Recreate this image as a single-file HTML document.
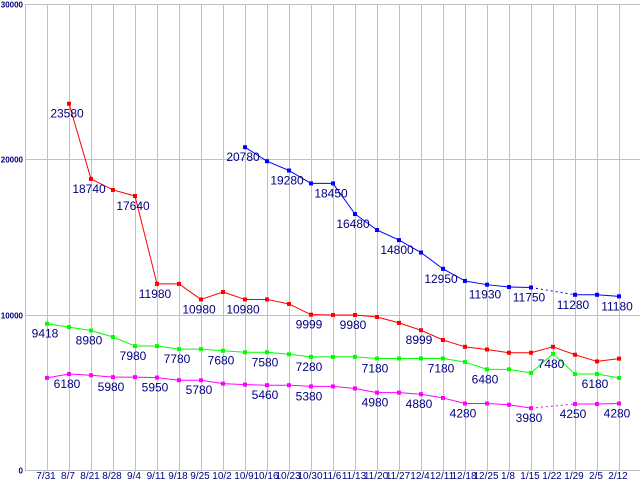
<!DOCTYPE html>
<html><head><meta charset="utf-8"><style>
html,body{margin:0;padding:0;background:#fff;width:640px;height:480px;overflow:hidden}
svg{display:block}
text{font-family:"Liberation Sans","DejaVu Sans",sans-serif}
</style></head><body>
<svg id="chart" width="640" height="480" xmlns="http://www.w3.org/2000/svg">
<g id="grid"></g>
<g id="axes"></g>
<g id="series"></g>
</svg>
<script>
const categories=["7/31","8/7","8/21","8/28","9/4","9/11","9/18","9/25","10/2","10/9","10/16","10/23","10/30","11/6","11/13","11/20","11/27","12/4","12/11","12/18","12/25","1/8","1/15","1/22","1/29","2/5","2/12"];
const yTicks=[0,10000,20000,30000];
const redValues=[null,23580,18740,18030,17640,11980,11980,10980,11460,10980,10980,10690,9999,9980,9980,9850,9470,8999,8370,7930,7760,7550,7550,7930,7420,6990,7170];
const blueValues=[null,null,null,null,null,null,null,null,null,20780,19880,19280,18450,18450,16480,15450,14800,14000,12950,12170,11930,11780,11750,null,11280,11280,11180];
const greenValues=[9418,9200,8980,8560,7980,7980,7780,7780,7680,7580,7580,7450,7280,7280,7280,7180,7180,7180,7180,6950,6480,6480,6250,7480,6180,6180,5930];
const magentaValues=[5930,6180,6100,5980,5980,5950,5780,5780,5560,5500,5460,5460,5380,5380,5250,4980,4980,4880,4640,4280,4280,4200,3980,null,4250,4250,4280];
const redLabels=[[1,"23580"],[2,"18740"],[4,"17640"],[5,"11980"],[7,"10980"],[9,"10980"],[12,"9999"],[14,"9980"],[17,"8999"]];
const blueLabels=[[9,"20780"],[11,"19280"],[13,"18450"],[14,"16480"],[16,"14800"],[18,"12950"],[20,"11930"],[22,"11750"],[24,"11280"],[26,"11180"]];
const greenLabels=[[0,"9418"],[2,"8980"],[4,"7980"],[6,"7780"],[8,"7680"],[10,"7580"],[12,"7280"],[15,"7180"],[18,"7180"],[20,"6480"],[23,"7480"],[25,"6180"]];
const magentaLabels=[[1,"6180"],[3,"5980"],[5,"5950"],[7,"5780"],[10,"5460"],[12,"5380"],[15,"4980"],[17,"4880"],[19,"4280"],[22,"3980"],[24,"4250"],[26,"4280"]];

const NS="http://www.w3.org/2000/svg";
const X0=25,TOP=4,BOT=470,STEP=22,YMAX=30000;
function xPos(i){return X0+STEP*(i+1);}
function yPos(v){return BOT-(v/YMAX)*(BOT-TOP);}
function mk(tag,attrs,parent){const e=document.createElementNS(NS,tag);for(const k in attrs)e.setAttribute(k,attrs[k]);parent.appendChild(e);return e;}
const grid=document.getElementById('grid'),axes=document.getElementById('axes'),series=document.getElementById('series');

for(let i=-1;i<categories.length;i++){
  const x=xPos(i);
  const l=mk('line',{x1:x+0.5,y1:TOP,x2:x+0.5,y2:BOT,stroke:'#c0c0c0','stroke-width':1},grid);
  
  
}
yTicks.forEach(v=>{
  const y=Math.round(yPos(v))+0.5;
  const l=mk('line',{x1:X0,y1:y,x2:640,y2:y,stroke:'#c0c0c0','stroke-width':1},grid);
  
  
  const t=mk('text',{x:23,y:y+3,'text-anchor':'end','font-size':'8','font-weight':'bold',fill:'#000080'},axes);
  t.textContent=String(v);
  
  
});
categories.forEach((c,i)=>{
  const t=mk('text',{x:xPos(i)-1,y:479,'text-anchor':'middle','font-size':'10',fill:'#000080'},axes);
  t.textContent=c;
  
  
});

function drawSeries(vals,labels,color,name){
  const g=mk('g',{},series);
  
  
  let prev=-1;
  for(let i=0;i<vals.length;i++){
    if(vals[i]==null)continue;
    if(prev>=0){
      const a={x1:xPos(prev),y1:yPos(vals[prev]),x2:xPos(i),y2:yPos(vals[i]),stroke:color,'stroke-width':1};
      if(i-prev>1)a['stroke-dasharray']='2,3';
      const l=mk('line',a,g);
      
      
    }
    prev=i;
  }
  vals.forEach((v,i)=>{
    if(v==null)return;
    const r=mk('rect',{x:xPos(i)-2,y:yPos(v)-2,width:4,height:4,fill:color},g);
    
    
  });
  labels.forEach(([i,txt])=>{
    const t=mk('text',{x:xPos(i)-2,y:yPos(vals[i])+14,'text-anchor':'middle','font-size':'12',fill:'#000080'},g);
    t.textContent=txt;
    
    
  });
}
drawSeries(redValues,redLabels,'#ff0000','red');
drawSeries(blueValues,blueLabels,'#0000ff','blue');
drawSeries(greenValues,greenLabels,'#00ff00','green');
drawSeries(magentaValues,magentaLabels,'#ff00ff','magenta');
</script>
</body></html>
